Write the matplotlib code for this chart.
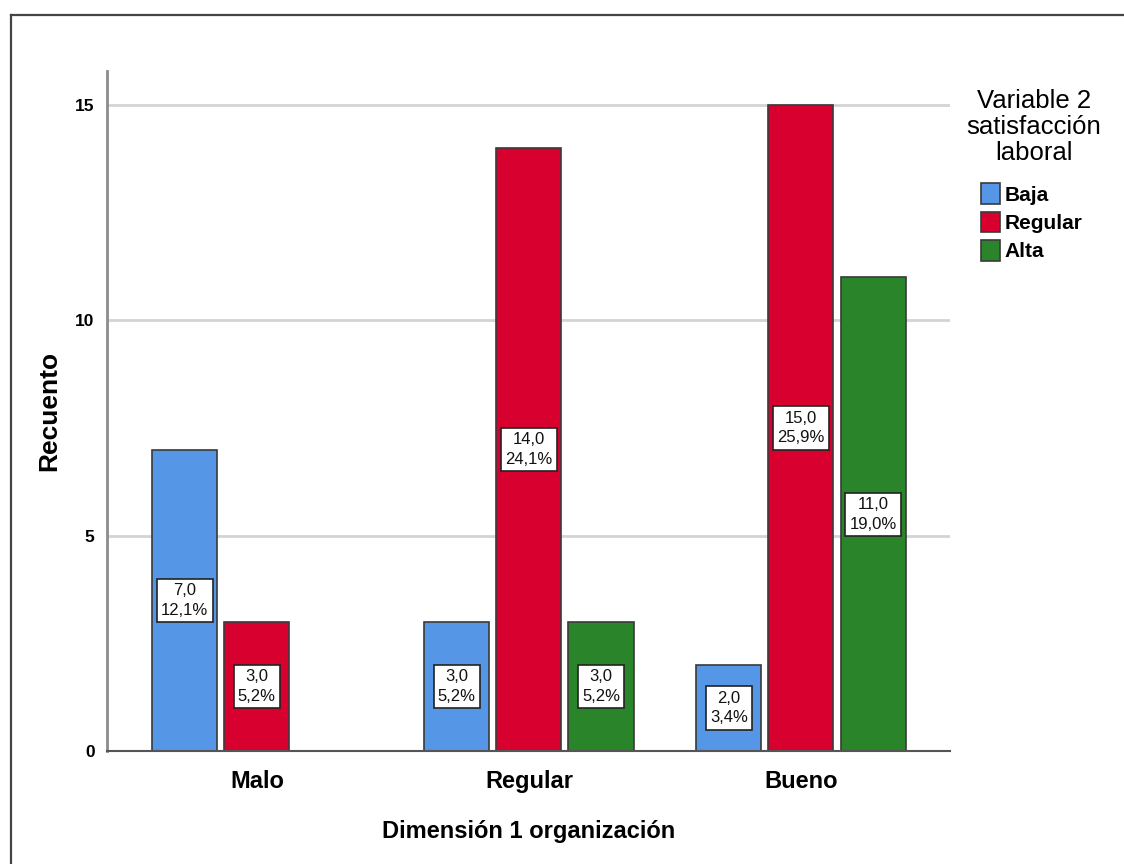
import numpy as np
import matplotlib
matplotlib.use("Agg")
import matplotlib.pyplot as plt
from matplotlib.patches import Patch
from matplotlib.lines import Line2D

# Data: counts per organisation level, split by job-satisfaction level
categories = ["Malo", "Regular", "Bueno"]
series_names = ["Baja", "Regular", "Alta"]
baja = [7, 3, 2]
regular = [3, 14, 15]
alta = [0, 3, 11]
y_ticks = [0, 5, 10, 15]

colors = ["#5596e6", "#d7002f", "#2a8429"]
edge = "#3a3a3a"

plt.rcParams["font.family"] = ["Liberation Sans", "DejaVu Sans"]

fig = plt.figure(figsize=(11.24, 8.64), dpi=100)
W, H = 1124, 864

# Outer frame (top and left edges)
fig.add_artist(Line2D([11 / W, 11 / W], [0, 1 - 15 / H], transform=fig.transFigure,
                      color="#444444", lw=1.6))
fig.add_artist(Line2D([11 / W, 1], [1 - 15 / H, 1 - 15 / H], transform=fig.transFigure,
                      color="#444444", lw=1.6))

ax = fig.add_axes([107 / W, (H - 751) / H, (950 - 107) / W, (751 - 71) / H])

series = [baja, regular, alta]
total = sum(sum(s) for s in series)
x = np.arange(len(categories))
offset = 0.265
width = 0.239

for i, (vals, col) in enumerate(zip(series, colors)):
    for xi, v in zip(x, vals):
        if v == 0:
            continue
        xpos = xi + (i - 1) * offset
        ax.bar(xpos, v, width=width, color=col, edgecolor=edge, linewidth=1.2, zorder=3)
        label = f"{v:.1f}".replace(".", ",") + "\n" + f"{100 * v / total:.1f}".replace(".", ",") + "%"
        ax.text(xpos, v / 2, label, ha="center", va="center", fontsize=12,
                linespacing=1.4, color="#111111", zorder=5,
                bbox=dict(boxstyle="square,pad=0.25", facecolor="white",
                          edgecolor="#222222", linewidth=1.2))

ax.set_xlim(-0.551, 2.548)
ax.set_ylim(0, 15.79)
ax.set_yticks(y_ticks)
ax.set_yticklabels([str(t) for t in y_ticks], fontsize=12.5, fontweight="bold")
ax.set_xticks(x)
ax.set_xticklabels(categories, fontsize=17, fontweight="bold")
ax.tick_params(axis="both", length=0)
ax.tick_params(axis="y", pad=9)
ax.tick_params(axis="x", pad=14)

for t in y_ticks[1:]:
    ax.axhline(t, color="#d4d4d4", lw=2, zorder=1)

for s in ["top", "right"]:
    ax.spines[s].set_visible(False)
ax.spines["left"].set_color("#8c8c8c")
ax.spines["left"].set_linewidth(2)
ax.spines["bottom"].set_color("#555555")
ax.spines["bottom"].set_linewidth(1.5)
ax.spines["bottom"].set_zorder(4)

ax.set_ylabel("Recuento", fontsize=19, fontweight="bold", labelpad=10)
ax.set_xlabel("Dimensión 1 organización", fontsize=17, fontweight="bold", labelpad=19)

# Legend
fig.text(1034 / W, 1 - 127 / H, "Variable 2\nsatisfacción\nlaboral", ha="center", va="center",
         fontsize=18.5, linespacing=1.1)
handles = [Patch(facecolor=c, edgecolor=edge, linewidth=1.2) for c in colors]
leg = fig.legend(handles, series_names, loc="upper left",
                 bbox_to_anchor=(971 / W, 1 - 173 / H), frameon=False,
                 prop={"size": 15, "weight": "bold"}, handlelength=0.9, handleheight=1.15,
                 handletextpad=0.2, labelspacing=0.33, borderpad=0)

fig.savefig("out.png", dpi=100, facecolor="white")
